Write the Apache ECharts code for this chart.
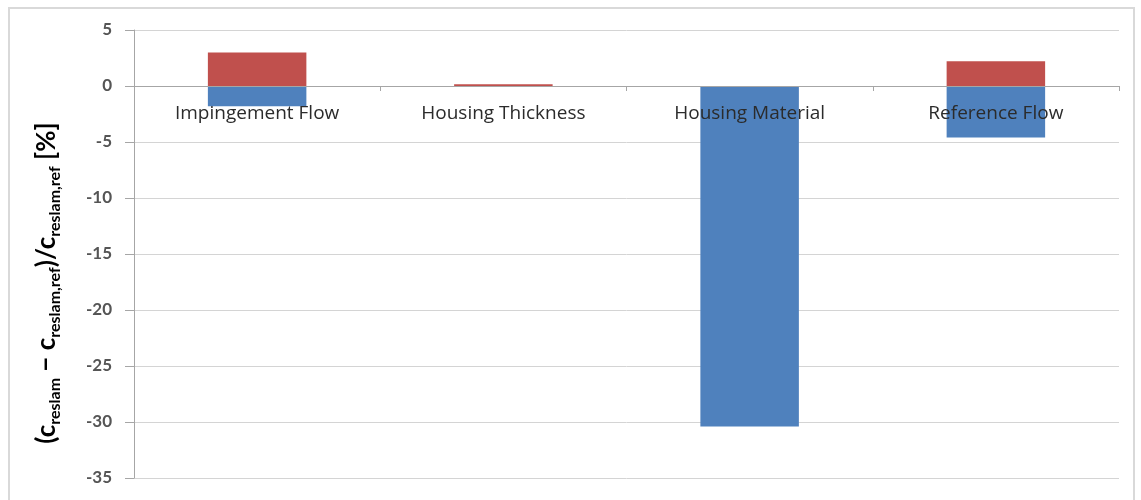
<!DOCTYPE html>
<html>
<head>
<meta charset="utf-8">
<script src="https://cdn.jsdelivr.net/npm/echarts@6/dist/echarts.min.js"></script>
<style>
html,body{margin:0;padding:0;background:#fff;}
#frame{position:absolute;left:8px;top:7px;width:1127px;height:500px;border:2px solid #d9d9d9;box-sizing:border-box;}
#chart{position:absolute;left:0;top:0;width:1141px;height:500px;}
</style>
</head>
<body>
<div id="frame"></div>
<div id="chart"></div>
<script>
const categories = ['Impingement Flow', 'Housing Thickness', 'Housing Material', 'Reference Flow'];
const redValues = [3.0, 0.15, 0, 2.2];
const blueValues = [-1.8, -0.05, -30.4, -4.6];
const yTicks = [5, 0, -5, -10, -15, -20, -25, -30, -35];

const chart = echarts.init(document.getElementById('chart'));
const FONT = 'Lato';
const GRID_TOP = 30, GRID_BOTTOM = 22, H = 500;
const plotH = H - GRID_TOP - GRID_BOTTOM;
// place the category axis on the zero value line
const zeroOffset = -plotH * (0 - (-35)) / (5 - (-35));
chart.setOption({
  animation: false,
  grid: { left: 134, right: 22, top: GRID_TOP, bottom: GRID_BOTTOM, outerBoundsMode: 'none', containLabel: false },
  xAxis: {
    type: 'category',
    data: categories,
    z: 5,
    position: 'bottom',
    offset: zeroOffset,
    axisLine: { onZero: false, lineStyle: { color: '#a6a6a6', width: 1 } },
    axisTick: { show: true, length: 5, inside: false, lineStyle: { color: '#a6a6a6' } },
    axisLabel: { color: '#2b2b2b', fontFamily: 'Open Sans', fontSize: 19, fontWeight: 500, margin: 18 },
    splitLine: { show: false }
  },
  yAxis: {
    type: 'value',
    min: -35, max: 5, interval: 5,
    axisLine: { show: true, lineStyle: { color: '#a6a6a6' } },
    axisTick: { show: true, length: 9, lineStyle: { color: '#a6a6a6' } },
    axisLabel: { color: '#555', fontFamily: FONT, fontSize: 17, fontWeight: 'bold', margin: 22,
      formatter: v => yTicks.indexOf(v) >= 0 ? String(v) : '' },
    splitLine: { show: true, lineStyle: { color: '#d4d4d4', width: 1 } }
  },
  series: [
    { name: 'Red', type: 'bar', stack: 'total', data: redValues, barWidth: '40%',
      itemStyle: { color: '#C0504D' } },
    { name: 'Blue', type: 'bar', stack: 'total', data: blueValues, barWidth: '40%',
      itemStyle: { color: '#4F81BD' } }
  ],
  graphic: [{
    type: 'text',
    x: 47, y: 283,
    rotation: Math.PI / 2,
    style: {
      text: '{m|(c}{s|reslam}{m| − c}{s|reslam,ref}{m|)/c}{s|reslam,ref}{m| [%]}',
      align: 'center', verticalAlign: 'middle',
      rich: {
        m: { fontFamily: FONT, fontSize: 26, fontWeight: 'bold', fill: '#000', lineHeight: 32, verticalAlign: 'middle' },
        s: { fontFamily: FONT, fontSize: 16, fontWeight: 'bold', fill: '#000', lineHeight: 32, verticalAlign: 'bottom' }
      }
    }
  }]
});
</script>
</body>
</html>
